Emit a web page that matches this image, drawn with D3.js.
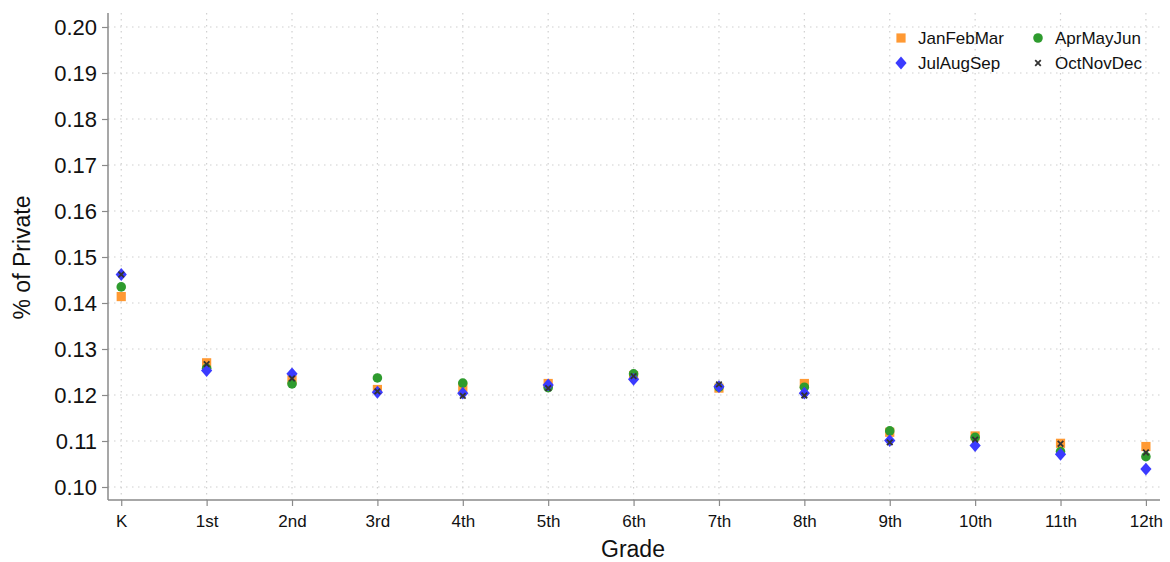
<!DOCTYPE html>
<html>
<head>
<meta charset="utf-8">
<script src="https://cdn.jsdelivr.net/npm/d3@7"></script>
<style>
  html, body { margin: 0; padding: 0; background: #fff; }
  svg { display: block; font-family: "Liberation Sans", Arial, sans-serif; }
</style>
</head>
<body>
<svg id="chart" width="1170" height="562"></svg>
<script>
// Grade levels on the x axis
const grades = ["K", "1st", "2nd", "3rd", "4th", "5th", "6th", "7th", "8th", "9th", "10th", "11th", "12th"];

// Share of private-school enrollment by quarter of birth
const janFebMar = [0.1414, 0.1270, 0.1233, 0.1212, 0.1217, 0.1225, 0.1242, 0.1215, 0.1225, 0.1119, 0.1111, 0.1095, 0.1088];
const aprMayJun = [0.1435, 0.1258, 0.1224, 0.1237, 0.1226, 0.1216, 0.1246, 0.1217, 0.1217, 0.1122, 0.1108, 0.1077, 0.1066];
const julAugSep = [0.1462, 0.1253, 0.1246, 0.1206, 0.1204, 0.1222, 0.1234, 0.1218, 0.1204, 0.1101, 0.1090, 0.1071, 0.1039];
const octNovDec = [0.1462, 0.1267, 0.1236, 0.1208, 0.1198, 0.1215, 0.1241, 0.1223, 0.1199, 0.1097, 0.1103, 0.1094, 0.1075];

const yTicks = [0.10, 0.11, 0.12, 0.13, 0.14, 0.15, 0.16, 0.17, 0.18, 0.19, 0.20];

const series = [
  { name: "JanFebMar", values: janFebMar, color: "#ff9933", symbol: "square" },
  { name: "AprMayJun", values: aprMayJun, color: "#2e9b2e", symbol: "circle" },
  { name: "JulAugSep", values: julAugSep, color: "#3b3bff", symbol: "diamond" },
  { name: "OctNovDec", values: octNovDec, color: "#333333", symbol: "cross" }
];

const svg = d3.select("#chart");
const plot = { left: 108, right: 1160, top: 13, bottom: 500 };

const x = d3.scaleLinear().domain([-0.155, 12.165]).range([plot.left, plot.right]);
const y = d3.scaleLinear().domain([0.097174, 0.203043]).range([plot.bottom, plot.top]);

// Dotted grid
const grid = svg.append("g");
grid.selectAll("line.h").data(yTicks).join("line")
  .attr("x1", plot.left).attr("x2", plot.right)
  .attr("y1", d => y(d)).attr("y2", d => y(d))
  .attr("stroke", "#d0d0d0").attr("stroke-width", 1.2)
  .attr("stroke-dasharray", "1.5,4.5");
grid.selectAll("line.v").data(grades.map((g, i) => i)).join("line")
  .attr("y1", plot.top).attr("y2", plot.bottom)
  .attr("x1", d => x(d)).attr("x2", d => x(d))
  .attr("stroke", "#d0d0d0").attr("stroke-width", 1.2)
  .attr("stroke-dasharray", "1.5,4.5");

// Axes
const yAxis = d3.axisLeft(y).tickValues(yTicks).tickFormat(d3.format(".2f")).tickSize(6).tickPadding(5);
const gy = svg.append("g").attr("transform", `translate(${plot.left},0)`).call(yAxis);
gy.select(".domain").attr("d", `M0,${plot.top}V${plot.bottom}`);

const xAxis = d3.axisBottom(x).tickValues(grades.map((g, i) => i)).tickFormat(i => grades[i]).tickSize(6).tickPadding(9);
const gx = svg.append("g").attr("transform", `translate(0,${plot.bottom})`).call(xAxis);
gx.select(".domain").attr("d", `M${plot.left},0H${plot.right}`);

[gx, gy].forEach(g => {
  g.select(".domain").attr("stroke", "#8a8a8a").attr("stroke-width", 1.5);
  g.selectAll(".tick line").attr("stroke", "#8a8a8a").attr("stroke-width", 1.2);
  g.selectAll(".tick text").attr("fill", "#111").attr("font-family", "Liberation Sans, Arial, sans-serif");
});
gy.selectAll(".tick text").attr("font-size", 22).attr("dy", "0.36em");
gx.selectAll(".tick text").attr("font-size", 17);

// Axis titles
svg.append("text").attr("x", (plot.left + plot.right) / 2 - 1).attr("y", 557)
  .attr("text-anchor", "middle").attr("font-size", 23).attr("fill", "#111").text("Grade");
svg.append("text").attr("transform", `translate(30,${(plot.top + plot.bottom) / 2 + 1}) rotate(-90)`)
  .attr("text-anchor", "middle").attr("font-size", 23).attr("fill", "#111").text("% of Private");

// Marker shapes
function markerPath(symbol) {
  switch (symbol) {
    case "square": return "M-4.6,-4.6H4.6V4.6H-4.6Z";
    case "circle": return d3.symbol(d3.symbolCircle, 72)();
    case "diamond": return "M0,-6.4L5.6,0L0,6.4L-5.6,0Z";
    case "cross": return "M-2.8,-2.8L2.8,2.8M-2.8,2.8L2.8,-2.8";
  }
}
function styleMarker(sel, s) {
  if (s.symbol === "cross") {
    sel.attr("fill", "none").attr("stroke", s.color).attr("stroke-width", 1.8);
  } else {
    sel.attr("fill", s.color).attr("stroke", "none");
  }
}

// Points
series.forEach(s => {
  const g = svg.append("g");
  g.selectAll("path").data(s.values).join("path")
    .attr("d", markerPath(s.symbol))
    .attr("transform", (d, i) => `translate(${x(i)},${y(d)})`)
    .call(sel => styleMarker(sel, s));
});

// Legend
const legend = svg.append("g");
const legendPos = [[901, 38], [1038, 38], [901, 63], [1038, 63]];
series.forEach((s, i) => {
  const [lx, ly] = legendPos[i];
  legend.append("path").attr("d", markerPath(s.symbol))
    .attr("transform", `translate(${lx},${ly})`).call(sel => styleMarker(sel, s));
  legend.append("text").attr("x", lx + 17).attr("y", ly).attr("dy", "0.36em")
    .attr("font-size", 17).attr("fill", "#111").text(s.name);
});
</script>
</body>
</html>
